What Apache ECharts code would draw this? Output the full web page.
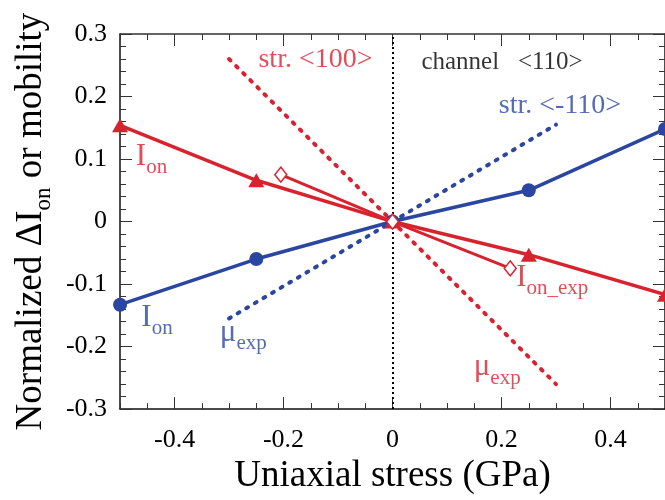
<!DOCTYPE html>
<html><head><meta charset="utf-8">
<script src="https://cdn.jsdelivr.net/npm/echarts@6/dist/echarts.min.js"></script>
<style>html,body{margin:0;padding:0;background:#fff}#c{width:665px;height:500px}</style>
</head><body><div id="c"></div>
<script>
// ---- data ----
const xTickLabels = [-0.4, -0.2, 0, 0.2, 0.4];
const ionStress = [-0.5, -0.25, 0, 0.25, 0.5];
const ionRed = [0.154, 0.066, 0, -0.053, -0.117];
const ionBlue = [-0.133, -0.060, 0, 0.050, 0.148];
const ionExpStress = [-0.205, 0, 0.216];
const ionExpRed = [0.075, 0, -0.075];
const muStress = [-0.3, 0, 0.3];
const muRed100 = [0.26, 0, -0.26];
const muBlue110 = [-0.155, 0, 0.155];
// annotation texts and their anchor (data coords: left edge, vertical centre)
const annText = ['str. <100>', 'channel   <110>', 'str. <-110>', 'I|on', 'I|on', 'μ|exp', 'I|on_exp', 'μ|exp'];
const annX = [-0.246, 0.053, 0.195, -0.471, -0.461, -0.317, 0.227, 0.149];
const annY = [0.259, 0.255, 0.185, 0.104, -0.154, -0.178, -0.090, -0.233];
const annKind = ['red', 'black', 'blue', 'red', 'blue', 'blue', 'red', 'red'];

const RED = '#d8232f', BLUE = '#2a46a0', FONT = 'Liberation Serif';
const colorOf = {red: RED, blue: BLUE, black: '#000'};
const zip = (a, b) => a.map((v, i) => [v, b[i]]);

const chart = echarts.init(document.getElementById('c'), null, {renderer: 'canvas'});

const annSeries = annText.map((t, i) => {
  const sub = t.indexOf('|') >= 0;
  const parts = t.split('|');
  const col = colorOf[annKind[i]];
  const plain = annKind[i] === 'black';
  return {
    type: 'scatter', symbolSize: 0, silent: true, z: 10,
    data: [[annX[i], annY[i]]],
    label: {
      show: true, position: 'right', distance: 0,
      formatter: sub ? '{m|' + parts[0] + '}{s|' + parts[1] + '}' : '{t|' + t + '}',
      rich: {
        m: {fontFamily: FONT, fontSize: 31, color: col, lineHeight: 31, verticalAlign: 'middle'},
        s: {fontFamily: FONT, fontSize: 21, color: col, lineHeight: 21, padding: [22, 0, 0, 0], verticalAlign: 'middle'},
        t: {fontFamily: FONT, fontSize: plain ? 25 : 28, color: col, lineHeight: 30}
      }
    }
  };
});

const common = {type: 'value', min: -0.5, max: 0.5, splitLine: {show: false}};
const option = {
  animation: false,
  backgroundColor: '#fff',
  grid: {left: 119, top: 34, width: 547, height: 388},
  xAxis: [
    Object.assign({}, common, {position: 'bottom', interval: 0.05,
      axisLine: {show: true, onZero: false, lineStyle: {color: '#111', width: 1.5}},
      axisTick: {inside: true, length: 6, lineStyle: {color: '#333', width: 1}},
      axisLabel: {show: false}}),
    Object.assign({}, common, {position: 'bottom',
      axisLine: {show: false, onZero: false},
      axisTick: {inside: true, length: 12, customValues: xTickLabels, lineStyle: {color: '#333', width: 1}},
      axisLabel: {customValues: xTickLabels, fontFamily: FONT, fontSize: 26, color: '#000', margin: 18},
      name: 'Uniaxial stress (GPa)', nameLocation: 'middle', nameGap: 40,
      nameTextStyle: {fontFamily: FONT, fontSize: 37, color: '#000'}}),
    Object.assign({}, common, {position: 'top', interval: 0.05,
      axisLine: {show: true, onZero: false, lineStyle: {color: '#333', width: 1.5}},
      axisTick: {inside: true, length: 6, lineStyle: {color: '#333', width: 1}},
      axisLabel: {show: false}}),
    Object.assign({}, common, {position: 'top',
      axisLine: {show: false, onZero: false},
      axisTick: {inside: true, length: 12, customValues: xTickLabels, lineStyle: {color: '#333', width: 1}},
      axisLabel: {show: false}})
  ],
  yAxis: [
    {type: 'value', position: 'left', min: -0.3, max: 0.3, interval: 0.1, splitLine: {show: false},
      axisLine: {show: true, onZero: false, lineStyle: {color: '#111', width: 1.5}},
      axisTick: {inside: true, length: 12, lineStyle: {color: '#333', width: 1}},
      minorTick: {show: true, splitNumber: 5, length: 6, lineStyle: {color: '#333', width: 1}},
      axisLabel: {fontFamily: FONT, fontSize: 26, color: '#000', margin: 13},
      name: '{a|Normalized ΔI}{b|on}{a| or mobility}', nameLocation: 'middle', nameGap: 70,
      nameTextStyle: {fontFamily: FONT, fontSize: 37, color: '#000',
        rich: {a: {fontFamily: FONT, fontSize: 37, color: '#000', lineHeight: 37, verticalAlign: 'middle'},
               b: {fontFamily: FONT, fontSize: 23, color: '#000', lineHeight: 23, padding: [24, 0, 0, 0], verticalAlign: 'middle'}}}},
    {type: 'value', position: 'right', min: -0.3, max: 0.3, interval: 0.1, splitLine: {show: false},
      axisLine: {show: true, onZero: false, lineStyle: {color: '#111', width: 1.5}},
      axisTick: {inside: true, length: 12, lineStyle: {color: '#333', width: 1}},
      minorTick: {show: true, splitNumber: 5, length: 6, lineStyle: {color: '#333', width: 1}},
      axisLabel: {show: false}}
  ],
  series: [
    {type: 'line', data: zip(muStress, muRed100), showSymbol: false, symbol: 'none', z: 2,
      lineStyle: {color: RED, width: 4, type: [2, 8], cap: 'round'},
      markLine: {silent: true, symbol: 'none', animation: false, label: {show: false},
        lineStyle: {color: '#000', width: 2, type: [2, 3]}, data: [{xAxis: 0}]}},
    {type: 'line', data: zip(muStress, muBlue110), symbol: 'none', z: 2,
      lineStyle: {color: BLUE, width: 4, type: [2, 8], cap: 'round'}},
    {type: 'line', data: zip(ionStress, ionBlue), symbol: 'circle', symbolSize: 14, z: 3,
      itemStyle: {color: BLUE}, lineStyle: {color: BLUE, width: 3.5}},
    {type: 'line', data: zip(ionStress, ionRed), symbol: 'triangle', symbolSize: [16, 14], z: 4,
      itemStyle: {color: RED}, lineStyle: {color: RED, width: 3.5}},
    {type: 'line', data: zip(ionExpStress, ionExpRed), symbol: 'diamond', symbolSize: [12, 15], z: 5,
      itemStyle: {color: '#fff', borderColor: RED, borderWidth: 1.5}, lineStyle: {color: RED, width: 3}}
  ].concat(annSeries)
};
chart.setOption(option);
</script>
</body></html>
